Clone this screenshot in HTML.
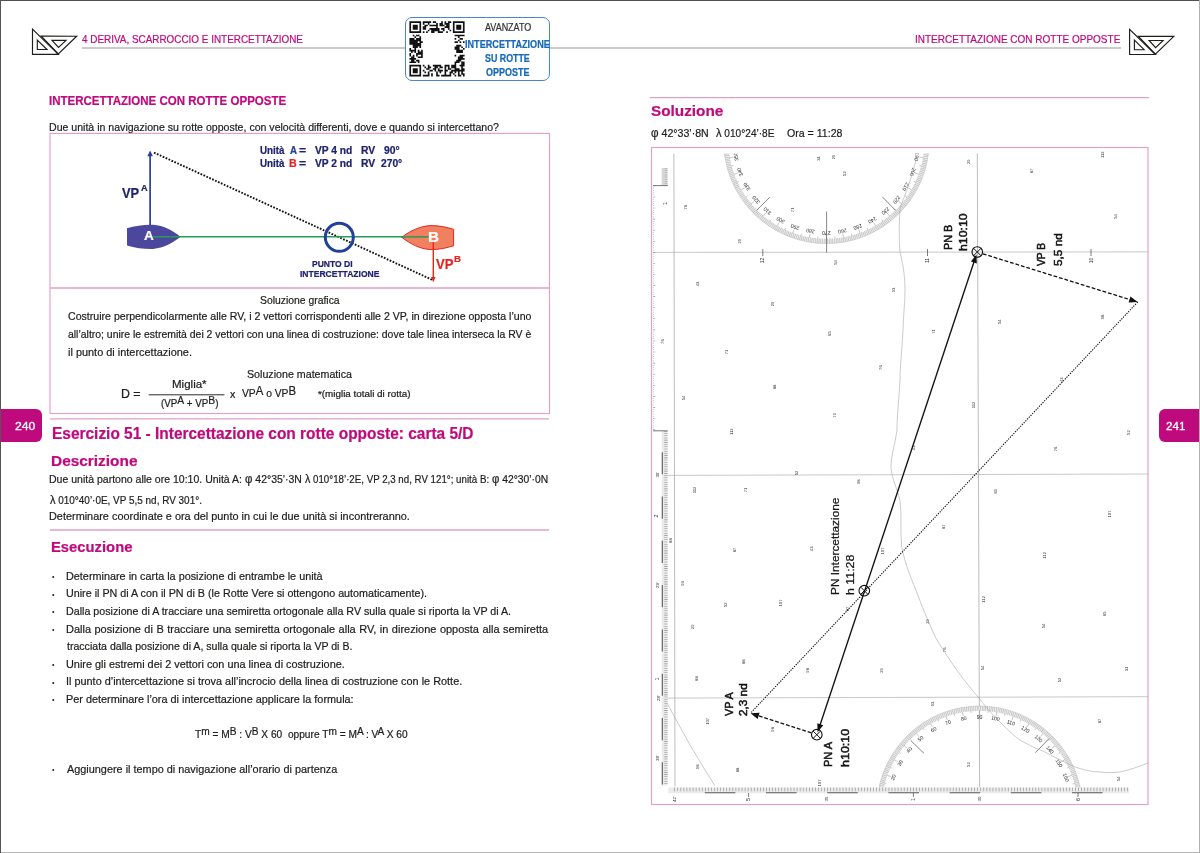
<!DOCTYPE html><html lang="it"><head><meta charset="utf-8"><title>Intercettazione con rotte opposte</title>
<style>
html,body{margin:0;padding:0;background:#fff}
body{width:1200px;height:853px;position:relative;overflow:hidden;font-family:"Liberation Sans", sans-serif;color:#1d1d1b}
.pg{position:absolute;left:0;top:0;width:1200px;height:853px;overflow:hidden;background:#fff;will-change:transform}
.t{position:absolute;margin:0;padding:0;white-space:nowrap;line-height:1;transform-origin:0 0;font-weight:400}
.t{-webkit-text-stroke:0.22px currentColor}
.ns{-webkit-text-stroke:0.3px #fff}
.bu{-webkit-text-stroke:0}
.r{position:absolute;margin:0;padding:0;white-space:nowrap;line-height:1;transform-origin:0 0}
.ln{position:absolute;height:0;border-top:1px solid #e2a0c4}
.box{position:absolute;border:1px solid #e2a0c4;box-sizing:border-box}
.tab{position:absolute;background:#bf0a7e;top:408.6px;height:33px;width:41.5px}
svg{position:absolute;left:0;top:0}
</style></head><body><div class="pg">
<div style="position:absolute;left:0;top:0;width:1200px;height:1px;background:#505050"></div>
<div style="position:absolute;left:0;top:851.6px;width:1200px;height:1.4px;background:#b4b4b4"></div>
<div style="position:absolute;left:1199px;top:0;width:1px;height:853px;background:#b0b0b0"></div>
<div style="position:absolute;left:82px;top:47px;width:1039px;height:2px;background:#cbcbcb"></div>
<div style="position:absolute;left:404.7px;top:17.4px;width:145.3px;height:63.2px;box-sizing:border-box;border:1.2px solid #4a86cf;border-radius:7px;background:#fff"></div>
<svg width="1200" height="853" viewBox="0 0 1200 853">
<g fill="none" stroke="#e2a0c4" stroke-width="1.15">
<rect x="50" y="133.4" width="499.5" height="280.1"/>
<rect x="651.5" y="147.5" width="496.5" height="657"/>
<path d="M50.5,288H549 M50,418.8H549 M50,530H549 M650,97.6H1149" stroke-width="1.3"/>
</g></svg>
<div class="tab" style="left:0;border-radius:0 6px 6px 0"></div>
<div class="tab" style="left:1159px;width:41px;border-radius:6px 0 0 6px"></div>
<div style="position:absolute;left:0;top:0;width:1.2px;height:853px;background:#555"></div>
<div style="position:absolute;left:1199px;top:0;width:1px;height:853px;background:#b0b0b0"></div>
<svg width="1200" height="853" viewBox="0 0 1200 853">
<g fill="none" stroke="#1d1d1b" stroke-width="1.15" stroke-linejoin="miter"><path d="M32.5,29.2 L32.5,54.3 L58.3,54.3 Z"/><path d="M37.3,40.0 L37.3,49.5 L47.0,49.5 Z"/><path d="M41.3,36.1 L76.7,36.2 L58.3,54.0 Z"/><path d="M52.0,40.3 L66.0,40.3 L58.5,47.5 Z"/></g>
<g fill="none" stroke="#1d1d1b" stroke-width="1.15" stroke-linejoin="miter"><path d="M1129.6,29.4 L1129.6,54.5 L1155.4,54.5 Z"/><path d="M1134.4,40.2 L1134.4,49.7 L1144.1,49.7 Z"/><path d="M1138.4,36.3 L1173.8,36.4 L1155.4,54.2 Z"/><path d="M1149.1,40.5 L1163.1,40.5 L1155.6,47.7 Z"/></g>
<path d="M409.40,21.30h11.71v1.67h-11.71zM422.78,21.30h8.36v1.67h-8.36zM432.82,21.30h3.35v1.67h-3.35zM441.18,21.30h1.67v1.67h-1.67zM444.53,21.30h1.67v1.67h-1.67zM447.87,21.30h3.35v1.67h-3.35zM452.89,21.30h11.71v1.67h-11.71zM409.40,22.97h1.67v1.67h-1.67zM419.44,22.97h1.67v1.67h-1.67zM422.78,22.97h1.67v1.67h-1.67zM427.80,22.97h1.67v1.67h-1.67zM436.16,22.97h1.67v1.67h-1.67zM439.51,22.97h3.35v1.67h-3.35zM444.53,22.97h5.02v1.67h-5.02zM452.89,22.97h1.67v1.67h-1.67zM462.93,22.97h1.67v1.67h-1.67zM409.40,24.65h1.67v1.67h-1.67zM412.75,24.65h5.02v1.67h-5.02zM419.44,24.65h1.67v1.67h-1.67zM424.45,24.65h3.35v1.67h-3.35zM429.47,24.65h8.36v1.67h-8.36zM439.51,24.65h5.02v1.67h-5.02zM446.20,24.65h3.35v1.67h-3.35zM452.89,24.65h1.67v1.67h-1.67zM456.24,24.65h5.02v1.67h-5.02zM462.93,24.65h1.67v1.67h-1.67zM409.40,26.32h1.67v1.67h-1.67zM412.75,26.32h5.02v1.67h-5.02zM419.44,26.32h1.67v1.67h-1.67zM422.78,26.32h3.35v1.67h-3.35zM436.16,26.32h1.67v1.67h-1.67zM444.53,26.32h5.02v1.67h-5.02zM452.89,26.32h1.67v1.67h-1.67zM456.24,26.32h5.02v1.67h-5.02zM462.93,26.32h1.67v1.67h-1.67zM409.40,27.99h1.67v1.67h-1.67zM412.75,27.99h5.02v1.67h-5.02zM419.44,27.99h1.67v1.67h-1.67zM422.78,27.99h3.35v1.67h-3.35zM429.47,27.99h10.04v1.67h-10.04zM441.18,27.99h3.35v1.67h-3.35zM447.87,27.99h1.67v1.67h-1.67zM452.89,27.99h1.67v1.67h-1.67zM456.24,27.99h5.02v1.67h-5.02zM462.93,27.99h1.67v1.67h-1.67zM409.40,29.66h1.67v1.67h-1.67zM419.44,29.66h1.67v1.67h-1.67zM427.80,29.66h1.67v1.67h-1.67zM431.15,29.66h8.36v1.67h-8.36zM442.85,29.66h1.67v1.67h-1.67zM449.55,29.66h1.67v1.67h-1.67zM452.89,29.66h1.67v1.67h-1.67zM462.93,29.66h1.67v1.67h-1.67zM409.40,31.34h11.71v1.67h-11.71zM422.78,31.34h1.67v1.67h-1.67zM426.13,31.34h1.67v1.67h-1.67zM431.15,31.34h3.35v1.67h-3.35zM437.84,31.34h5.02v1.67h-5.02zM446.20,31.34h1.67v1.67h-1.67zM452.89,31.34h11.71v1.67h-11.71zM412.75,34.68h1.67v1.67h-1.67zM416.09,34.68h3.35v1.67h-3.35zM454.56,34.68h10.04v1.67h-10.04zM414.42,36.35h1.67v1.67h-1.67zM419.44,36.35h1.67v1.67h-1.67zM457.91,36.35h1.67v1.67h-1.67zM409.40,38.03h5.02v1.67h-5.02zM416.09,38.03h5.02v1.67h-5.02zM454.56,38.03h1.67v1.67h-1.67zM459.58,38.03h3.35v1.67h-3.35zM409.40,39.70h11.71v1.67h-11.71zM457.91,39.70h1.67v1.67h-1.67zM409.40,41.37h8.36v1.67h-8.36zM419.44,41.37h3.35v1.67h-3.35zM454.56,41.37h3.35v1.67h-3.35zM459.58,41.37h1.67v1.67h-1.67zM462.93,41.37h1.67v1.67h-1.67zM409.40,43.05h11.71v1.67h-11.71zM412.75,44.72h8.36v1.67h-8.36zM456.24,44.72h5.02v1.67h-5.02zM412.75,46.39h5.02v1.67h-5.02zM419.44,46.39h1.67v1.67h-1.67zM454.56,46.39h5.02v1.67h-5.02zM461.25,46.39h1.67v1.67h-1.67zM409.40,48.06h1.67v1.67h-1.67zM414.42,48.06h1.67v1.67h-1.67zM454.56,48.06h5.02v1.67h-5.02zM462.93,48.06h1.67v1.67h-1.67zM409.40,49.74h6.69v1.67h-6.69zM417.76,49.74h1.67v1.67h-1.67zM421.11,49.74h1.67v1.67h-1.67zM456.24,49.74h6.69v1.67h-6.69zM411.07,51.41h1.67v1.67h-1.67zM414.42,51.41h1.67v1.67h-1.67zM417.76,51.41h5.02v1.67h-5.02zM456.24,51.41h6.69v1.67h-6.69zM409.40,53.08h1.67v1.67h-1.67zM416.09,53.08h6.69v1.67h-6.69zM409.40,54.75h1.67v1.67h-1.67zM412.75,54.75h1.67v1.67h-1.67zM416.09,54.75h1.67v1.67h-1.67zM421.11,54.75h1.67v1.67h-1.67zM454.56,54.75h1.67v1.67h-1.67zM459.58,54.75h5.02v1.67h-5.02zM411.07,56.43h3.35v1.67h-3.35zM417.76,56.43h5.02v1.67h-5.02zM457.91,56.43h5.02v1.67h-5.02zM409.40,58.10h6.69v1.67h-6.69zM457.91,58.10h6.69v1.67h-6.69zM411.07,59.77h3.35v1.67h-3.35zM416.09,59.77h3.35v1.67h-3.35zM456.24,59.77h5.02v1.67h-5.02zM409.40,61.45h6.69v1.67h-6.69zM417.76,61.45h1.67v1.67h-1.67zM454.56,61.45h5.02v1.67h-5.02zM461.25,61.45h3.35v1.67h-3.35zM454.56,63.12h1.67v1.67h-1.67zM461.25,63.12h3.35v1.67h-3.35zM409.40,64.79h11.71v1.67h-11.71zM422.78,64.79h1.67v1.67h-1.67zM427.80,64.79h1.67v1.67h-1.67zM432.82,64.79h8.36v1.67h-8.36zM444.53,64.79h5.02v1.67h-5.02zM451.22,64.79h5.02v1.67h-5.02zM459.58,64.79h5.02v1.67h-5.02zM409.40,66.46h1.67v1.67h-1.67zM419.44,66.46h1.67v1.67h-1.67zM424.45,66.46h1.67v1.67h-1.67zM427.80,66.46h3.35v1.67h-3.35zM434.49,66.46h3.35v1.67h-3.35zM439.51,66.46h3.35v1.67h-3.35zM444.53,66.46h1.67v1.67h-1.67zM447.87,66.46h1.67v1.67h-1.67zM451.22,66.46h5.02v1.67h-5.02zM461.25,66.46h1.67v1.67h-1.67zM409.40,68.14h1.67v1.67h-1.67zM412.75,68.14h5.02v1.67h-5.02zM419.44,68.14h1.67v1.67h-1.67zM426.13,68.14h3.35v1.67h-3.35zM432.82,68.14h3.35v1.67h-3.35zM437.84,68.14h1.67v1.67h-1.67zM444.53,68.14h1.67v1.67h-1.67zM447.87,68.14h3.35v1.67h-3.35zM454.56,68.14h5.02v1.67h-5.02zM461.25,68.14h3.35v1.67h-3.35zM409.40,69.81h1.67v1.67h-1.67zM412.75,69.81h5.02v1.67h-5.02zM419.44,69.81h1.67v1.67h-1.67zM422.78,69.81h1.67v1.67h-1.67zM429.47,69.81h3.35v1.67h-3.35zM434.49,69.81h1.67v1.67h-1.67zM437.84,69.81h5.02v1.67h-5.02zM444.53,69.81h3.35v1.67h-3.35zM451.22,69.81h13.38v1.67h-13.38zM409.40,71.48h1.67v1.67h-1.67zM412.75,71.48h5.02v1.67h-5.02zM419.44,71.48h1.67v1.67h-1.67zM424.45,71.48h1.67v1.67h-1.67zM427.80,71.48h1.67v1.67h-1.67zM436.16,71.48h1.67v1.67h-1.67zM439.51,71.48h1.67v1.67h-1.67zM444.53,71.48h1.67v1.67h-1.67zM449.55,71.48h3.35v1.67h-3.35zM454.56,71.48h1.67v1.67h-1.67zM457.91,71.48h1.67v1.67h-1.67zM461.25,71.48h1.67v1.67h-1.67zM409.40,73.15h1.67v1.67h-1.67zM419.44,73.15h1.67v1.67h-1.67zM427.80,73.15h1.67v1.67h-1.67zM431.15,73.15h1.67v1.67h-1.67zM436.16,73.15h1.67v1.67h-1.67zM444.53,73.15h1.67v1.67h-1.67zM449.55,73.15h1.67v1.67h-1.67zM452.89,73.15h1.67v1.67h-1.67zM457.91,73.15h1.67v1.67h-1.67zM461.25,73.15h3.35v1.67h-3.35zM409.40,74.83h11.71v1.67h-11.71zM422.78,74.83h6.69v1.67h-6.69zM431.15,74.83h1.67v1.67h-1.67zM436.16,74.83h3.35v1.67h-3.35zM441.18,74.83h10.04v1.67h-10.04zM454.56,74.83h1.67v1.67h-1.67zM457.91,74.83h3.35v1.67h-3.35zM462.93,74.83h1.67v1.67h-1.67z" fill="#111"/>
<line x1="148.7" y1="394.8" x2="224.5" y2="394.8" stroke="#2a2a2a" stroke-width="1"/>
<line x1="154" y1="152.6" x2="432.6" y2="280" stroke="#111" stroke-width="1.9" stroke-dasharray="1.7 1.5"/><line x1="153" y1="236.8" x2="430" y2="236.8" stroke="#2a9a57" stroke-width="1.5"/><path d="M127,228.2 C135,225.6 146,224.4 153,224.8 C164,225.5 173,231 180.4,236.8 C173,242.6 164,248.2 153,248.9 C146,249.2 135,248 127,245.4 Z" fill="#4b479c"/><line x1="153" y1="236.8" x2="180" y2="236.8" stroke="#2a9a57" stroke-width="1.5"/><line x1="150.1" y1="225" x2="150.1" y2="155" stroke="#2a3f9d" stroke-width="1.7"/><path d="M150.1,150.4 L152.9,156.2 L147.3,156.2 Z" fill="#2a3f9d"/><circle cx="339.3" cy="237.3" r="14" fill="none" stroke="#21409a" stroke-width="3"/><path d="M401.8,237.3 C410,231 420,226 431,225.6 C439,225.5 447,227.3 453.6,229.3 L453.6,245.8 C447,247.8 439,249.7 431,249.6 C420,249.2 410,243.6 401.8,237.3 Z" fill="#f0805f" stroke="#e5261f" stroke-width="1"/><line x1="401" y1="236.9" x2="429" y2="236.9" stroke="#2a9a57" stroke-width="1.5"/><line x1="433.3" y1="242" x2="433.3" y2="278" stroke="#e5261f" stroke-width="1.4"/><path d="M433.3,282.3 L431,277 L435.6,277 Z" fill="#e5261f"/>
<defs><clipPath id="cpT"><rect x="652" y="153.4" width="496" height="120"/></clipPath><clipPath id="cpB"><rect x="652" y="690" width="496" height="97.3"/></clipPath><clipPath id="cpC"><rect x="651.5" y="148" width="496.5" height="656"/></clipPath></defs><g stroke="#a2a2a2" stroke-width="0.6" fill="none"><line x1="673.9" y1="153.8" x2="675.0" y2="786.5" stroke="#8e8e8e"/><line x1="977.3" y1="153.4" x2="979.6" y2="787" stroke="#8e8e8e"/><line x1="653" y1="252.4" x2="1148" y2="251.9"/><line x1="662" y1="475.4" x2="1148" y2="474.0"/><line x1="662" y1="698.1" x2="1148" y2="696.7"/></g><rect x="661.6" y="168" width="5.9" height="17.5" fill="#d8d8d8"/><rect x="661.8" y="431" width="5.8" height="354.5" fill="#ebebeb"/><line x1="666.1" y1="168" x2="666.1" y2="185.5" stroke="#9a9a9a" stroke-width="2.8" stroke-dasharray="0.5 1.715"/><line x1="665.9" y1="431" x2="665.9" y2="785.5" stroke="#8c8c8c" stroke-width="3.4" stroke-dasharray="0.55 1.665"/><line x1="662.3" y1="452.2" x2="662.3" y2="785.5" stroke="#5a5a5a" stroke-width="1.1" stroke-dasharray="22.15 22.15"/><path d="M653,185.6H667.8 M653,430.8H667.6" stroke="#555" stroke-width="0.8" fill="none"/><line x1="653.4" y1="185.6" x2="653.4" y2="430.8" stroke="#888" stroke-width="0.8" stroke-dasharray="0.6 1.615"/><line x1="654.4" y1="185.6" x2="654.4" y2="430.8" stroke="#888" stroke-width="1.6" stroke-dasharray="0.6 10.475"/><rect x="668.3" y="787.5" width="460.7" height="5.7" fill="#ebebeb"/><line x1="674.4" y1="789.4" x2="1129" y2="789.4" stroke="#8c8c8c" stroke-width="3.6" stroke-dasharray="0.6 2.46"/><line x1="704.8" y1="792.8" x2="1129" y2="792.8" stroke="#5a5a5a" stroke-width="1.1" stroke-dasharray="30.6 30.6"/><g clip-path="url(#cpT)"><circle cx="826.4" cy="140.7" r="100.5" fill="none" stroke="#e9e9e9" stroke-width="4.8"/><circle cx="826.4" cy="140.7" r="100.5" fill="none" stroke="#b4b4b4" stroke-width="4.8" stroke-dasharray="0.5 1.2541"/><circle cx="826.4" cy="140.7" r="102.9" fill="none" stroke="#bdbdbd" stroke-width="0.5"/><path d="M922.3,149.1L924.3,149.3M919.3,157.1L923.2,157.8M919.4,165.6L921.4,166.1M915.0,173.0L918.8,174.3M913.7,181.4L915.5,182.2M908.1,187.8L911.5,189.8M905.3,195.9L906.9,197.1M898.6,201.3L901.7,203.9M894.5,208.8L895.9,210.2M887.0,212.9L889.6,216.0M881.6,219.6L882.8,221.2M873.5,222.4L875.5,225.8M867.1,228.0L867.9,229.8M858.7,229.3L860.0,233.1M851.3,233.7L851.8,235.7M842.8,233.6L843.5,237.5M834.8,236.6L835.0,238.6M826.4,235.0L826.4,239.0M818.0,236.6L817.8,238.6M810.0,233.6L809.3,237.5M801.5,233.7L801.0,235.7M794.1,229.3L792.8,233.1M785.7,228.0L784.9,229.8M779.2,222.4L777.2,225.8M771.2,219.6L770.0,221.2M765.8,212.9L763.2,216.0M758.3,208.8L756.9,210.2M754.2,201.3L751.1,203.9M747.5,195.9L745.9,197.1M744.7,187.8L741.3,189.8M739.1,181.4L737.3,182.2M737.8,173.0L734.0,174.3M733.4,165.6L731.4,166.1M733.5,157.1L729.6,157.8M730.5,149.1L728.5,149.3" stroke="#999" stroke-width="0.55" fill="none"/><text x="915.0" y="156.3" transform="rotate(100 915.0 156.3)" font-size="5.2" text-anchor="middle" fill="#2c2c2c" font-family='"Liberation Sans", sans-serif'>190</text><text x="911.0" y="171.5" transform="rotate(110 911.0 171.5)" font-size="5.2" text-anchor="middle" fill="#2c2c2c" font-family='"Liberation Sans", sans-serif'>200</text><text x="904.3" y="185.7" transform="rotate(120 904.3 185.7)" font-size="5.2" text-anchor="middle" fill="#2c2c2c" font-family='"Liberation Sans", sans-serif'>210</text><text x="895.3" y="198.6" transform="rotate(130 895.3 198.6)" font-size="5.2" text-anchor="middle" fill="#2c2c2c" font-family='"Liberation Sans", sans-serif'>220</text><text x="884.3" y="209.6" transform="rotate(140 884.3 209.6)" font-size="5.2" text-anchor="middle" fill="#2c2c2c" font-family='"Liberation Sans", sans-serif'>230</text><text x="871.4" y="218.6" transform="rotate(150 871.4 218.6)" font-size="5.2" text-anchor="middle" fill="#2c2c2c" font-family='"Liberation Sans", sans-serif'>240</text><text x="857.2" y="225.3" transform="rotate(160 857.2 225.3)" font-size="5.2" text-anchor="middle" fill="#2c2c2c" font-family='"Liberation Sans", sans-serif'>250</text><text x="842.0" y="229.3" transform="rotate(170 842.0 229.3)" font-size="5.2" text-anchor="middle" fill="#2c2c2c" font-family='"Liberation Sans", sans-serif'>260</text><text x="826.4" y="230.7" transform="rotate(180 826.4 230.7)" font-size="5.2" text-anchor="middle" fill="#2c2c2c" font-family='"Liberation Sans", sans-serif'>270</text><text x="810.8" y="229.3" transform="rotate(190 810.8 229.3)" font-size="5.2" text-anchor="middle" fill="#2c2c2c" font-family='"Liberation Sans", sans-serif'>280</text><text x="795.6" y="225.3" transform="rotate(200 795.6 225.3)" font-size="5.2" text-anchor="middle" fill="#2c2c2c" font-family='"Liberation Sans", sans-serif'>290</text><text x="781.4" y="218.6" transform="rotate(210 781.4 218.6)" font-size="5.2" text-anchor="middle" fill="#2c2c2c" font-family='"Liberation Sans", sans-serif'>300</text><text x="768.5" y="209.6" transform="rotate(220 768.5 209.6)" font-size="5.2" text-anchor="middle" fill="#2c2c2c" font-family='"Liberation Sans", sans-serif'>310</text><text x="757.5" y="198.6" transform="rotate(230 757.5 198.6)" font-size="5.2" text-anchor="middle" fill="#2c2c2c" font-family='"Liberation Sans", sans-serif'>320</text><text x="748.5" y="185.7" transform="rotate(240 748.5 185.7)" font-size="5.2" text-anchor="middle" fill="#2c2c2c" font-family='"Liberation Sans", sans-serif'>330</text><text x="741.8" y="171.5" transform="rotate(250 741.8 171.5)" font-size="5.2" text-anchor="middle" fill="#2c2c2c" font-family='"Liberation Sans", sans-serif'>340</text><text x="737.8" y="156.3" transform="rotate(260 737.8 156.3)" font-size="5.2" text-anchor="middle" fill="#2c2c2c" font-family='"Liberation Sans", sans-serif'>350</text></g><g clip-path="url(#cpB)"><circle cx="979.6" cy="808.9" r="100.5" fill="none" stroke="#e9e9e9" stroke-width="4.8"/><circle cx="979.6" cy="808.9" r="100.5" fill="none" stroke="#b4b4b4" stroke-width="4.8" stroke-dasharray="0.5 1.2541"/><circle cx="979.6" cy="808.9" r="102.9" fill="none" stroke="#bdbdbd" stroke-width="0.5"/><path d="M886.7,792.5L882.8,791.8M886.6,784.0L884.6,783.5M891.0,776.6L887.2,775.3M892.3,768.2L890.5,767.4M897.9,761.8L894.5,759.8M900.7,753.7L899.1,752.5M907.4,748.3L904.3,745.7M911.5,740.8L910.1,739.4M919.0,736.7L916.4,733.6M924.4,730.0L923.2,728.4M932.5,727.2L930.5,723.8M938.9,721.6L938.1,719.8M947.3,720.3L946.0,716.5M954.7,715.9L954.2,713.9M963.2,716.0L962.5,712.1M971.2,713.0L971.0,711.0M979.6,714.6L979.6,710.6M988.0,713.0L988.2,711.0M996.0,716.0L996.7,712.1M1004.5,715.9L1005.0,713.9M1011.9,720.3L1013.2,716.5M1020.3,721.6L1021.1,719.8M1026.8,727.2L1028.8,723.8M1034.8,730.0L1036.0,728.4M1040.2,736.7L1042.8,733.6M1047.7,740.8L1049.1,739.4M1051.8,748.3L1054.9,745.7M1058.5,753.7L1060.1,752.5M1061.3,761.8L1064.7,759.8M1066.9,768.2L1068.7,767.4M1068.2,776.6L1072.0,775.3M1072.6,784.0L1074.6,783.5M1072.5,792.5L1076.4,791.8" stroke="#999" stroke-width="0.55" fill="none"/><text x="891.0" y="793.3" transform="rotate(-80 891.0 793.3)" font-size="5.2" text-anchor="middle" fill="#2c2c2c" font-family='"Liberation Sans", sans-serif'>10</text><text x="895.0" y="778.1" transform="rotate(-70 895.0 778.1)" font-size="5.2" text-anchor="middle" fill="#2c2c2c" font-family='"Liberation Sans", sans-serif'>20</text><text x="901.7" y="763.9" transform="rotate(-60 901.7 763.9)" font-size="5.2" text-anchor="middle" fill="#2c2c2c" font-family='"Liberation Sans", sans-serif'>30</text><text x="910.7" y="751.0" transform="rotate(-50 910.7 751.0)" font-size="5.2" text-anchor="middle" fill="#2c2c2c" font-family='"Liberation Sans", sans-serif'>40</text><text x="921.7" y="740.0" transform="rotate(-40 921.7 740.0)" font-size="5.2" text-anchor="middle" fill="#2c2c2c" font-family='"Liberation Sans", sans-serif'>50</text><text x="934.6" y="731.0" transform="rotate(-30 934.6 731.0)" font-size="5.2" text-anchor="middle" fill="#2c2c2c" font-family='"Liberation Sans", sans-serif'>60</text><text x="948.8" y="724.3" transform="rotate(-20 948.8 724.3)" font-size="5.2" text-anchor="middle" fill="#2c2c2c" font-family='"Liberation Sans", sans-serif'>70</text><text x="964.0" y="720.3" transform="rotate(-10 964.0 720.3)" font-size="5.2" text-anchor="middle" fill="#2c2c2c" font-family='"Liberation Sans", sans-serif'>80</text><text x="979.6" y="718.9" transform="rotate(0 979.6 718.9)" font-size="5.2" text-anchor="middle" fill="#2c2c2c" font-family='"Liberation Sans", sans-serif'>90</text><text x="995.2" y="720.3" transform="rotate(10 995.2 720.3)" font-size="5.2" text-anchor="middle" fill="#2c2c2c" font-family='"Liberation Sans", sans-serif'>100</text><text x="1010.4" y="724.3" transform="rotate(20 1010.4 724.3)" font-size="5.2" text-anchor="middle" fill="#2c2c2c" font-family='"Liberation Sans", sans-serif'>110</text><text x="1024.6" y="731.0" transform="rotate(30 1024.6 731.0)" font-size="5.2" text-anchor="middle" fill="#2c2c2c" font-family='"Liberation Sans", sans-serif'>120</text><text x="1037.5" y="740.0" transform="rotate(40 1037.5 740.0)" font-size="5.2" text-anchor="middle" fill="#2c2c2c" font-family='"Liberation Sans", sans-serif'>130</text><text x="1048.5" y="751.0" transform="rotate(50 1048.5 751.0)" font-size="5.2" text-anchor="middle" fill="#2c2c2c" font-family='"Liberation Sans", sans-serif'>140</text><text x="1057.5" y="763.9" transform="rotate(60 1057.5 763.9)" font-size="5.2" text-anchor="middle" fill="#2c2c2c" font-family='"Liberation Sans", sans-serif'>150</text><text x="1064.2" y="778.1" transform="rotate(70 1064.2 778.1)" font-size="5.2" text-anchor="middle" fill="#2c2c2c" font-family='"Liberation Sans", sans-serif'>160</text><text x="1068.2" y="793.3" transform="rotate(80 1068.2 793.3)" font-size="5.2" text-anchor="middle" fill="#2c2c2c" font-family='"Liberation Sans", sans-serif'>170</text></g><path d="M826.6,211.5V252.7 M756.6,210.4L769.6,197.4 M882.5,197L895.5,210.4 M911,740.8L924,753.3 M1049,738.6L1035.4,752.7" stroke="#555" stroke-width="0.7" fill="none"/><path d="M762.8,249V256 M927.5,249V256 M1091,249V256" stroke="#444" stroke-width="0.7"/><path d="M917,155 C913,175 905,195 900,208 C899,225 899,240 900,252 C904,268 905,280 905,290 C905,305 903,318 903,330 C902,350 900,365 900,380 C899,400 897,415 897,430 C895,445 891,455 891,467.6 C892,480 898,490 900,501 C902,515 900,530 901.6,546 C905,565 912,580 918.6,597 C924,612 930,625 935.6,637.7 C944,652 953,665 963,678.5 C969,686 973,691 978,697 C985,706 992,714 1000,722 C1008,730 1014,736 1020,740 C1030,746 1038,749 1045,752 C1056,758 1066,763 1075,767 C1084,770 1092,772 1100,772 C1108,773 1114,772.5 1120,772 C1130,770 1140,766 1148,763" stroke="#a0a0a0" stroke-width="0.55" fill="none"/><path d="M667,703 C675,718 683,732 690,745 C696,755 700,762 705,770 C709,776 712,781 715,786" stroke="#a0a0a0" stroke-width="0.55" fill="none"/><text x="685.7" y="207.2" transform="rotate(-90 685.7 207.2)" font-size="4.2" text-anchor="middle" fill="#333" font-family='"Liberation Sans", sans-serif' dy="1.3">76</text><text x="739.7" y="241.2" transform="rotate(-90 739.7 241.2)" font-size="4.2" text-anchor="middle" fill="#333" font-family='"Liberation Sans", sans-serif' dy="1.3">29</text><text x="792.8" y="209.8" transform="rotate(-90 792.8 209.8)" font-size="4.2" text-anchor="middle" fill="#333" font-family='"Liberation Sans", sans-serif' dy="1.3">71</text><text x="844.3" y="173.6" transform="rotate(-90 844.3 173.6)" font-size="4.2" text-anchor="middle" fill="#333" font-family='"Liberation Sans", sans-serif' dy="1.3">52</text><text x="819.0" y="158.4" transform="rotate(-90 819.0 158.4)" font-size="4.2" text-anchor="middle" fill="#333" font-family='"Liberation Sans", sans-serif' dy="1.3">31</text><text x="833.5" y="157.0" transform="rotate(-90 833.5 157.0)" font-size="4.2" text-anchor="middle" fill="#333" font-family='"Liberation Sans", sans-serif' dy="1.3">29</text><text x="835.7" y="262.4" transform="rotate(-90 835.7 262.4)" font-size="4.2" text-anchor="middle" fill="#333" font-family='"Liberation Sans", sans-serif' dy="1.3">54</text><text x="697.4" y="284.0" transform="rotate(-90 697.4 284.0)" font-size="4.2" text-anchor="middle" fill="#333" font-family='"Liberation Sans", sans-serif' dy="1.3">43</text><text x="772.8" y="304.0" transform="rotate(-90 772.8 304.0)" font-size="4.2" text-anchor="middle" fill="#333" font-family='"Liberation Sans", sans-serif' dy="1.3">29</text><text x="893.7" y="290.0" transform="rotate(-90 893.7 290.0)" font-size="4.2" text-anchor="middle" fill="#333" font-family='"Liberation Sans", sans-serif' dy="1.3">93</text><text x="968.7" y="161.7" transform="rotate(-90 968.7 161.7)" font-size="4.2" text-anchor="middle" fill="#333" font-family='"Liberation Sans", sans-serif' dy="1.3">29</text><text x="1032.0" y="171.0" transform="rotate(-90 1032.0 171.0)" font-size="4.2" text-anchor="middle" fill="#333" font-family='"Liberation Sans", sans-serif' dy="1.3">87</text><text x="1102.6" y="154.7" transform="rotate(-90 1102.6 154.7)" font-size="4.2" text-anchor="middle" fill="#333" font-family='"Liberation Sans", sans-serif' dy="1.3">112</text><text x="1116.0" y="216.5" transform="rotate(-90 1116.0 216.5)" font-size="4.2" text-anchor="middle" fill="#333" font-family='"Liberation Sans", sans-serif' dy="1.3">54</text><text x="829.6" y="333.6" transform="rotate(-90 829.6 333.6)" font-size="4.2" text-anchor="middle" fill="#333" font-family='"Liberation Sans", sans-serif' dy="1.3">65</text><text x="726.3" y="352.0" transform="rotate(-90 726.3 352.0)" font-size="4.2" text-anchor="middle" fill="#333" font-family='"Liberation Sans", sans-serif' dy="1.3">71</text><text x="662.8" y="341.6" transform="rotate(-90 662.8 341.6)" font-size="4.2" text-anchor="middle" fill="#333" font-family='"Liberation Sans", sans-serif' dy="1.3">76</text><text x="880.5" y="367.6" transform="rotate(-90 880.5 367.6)" font-size="4.2" text-anchor="middle" fill="#333" font-family='"Liberation Sans", sans-serif' dy="1.3">76</text><text x="775.0" y="387.0" transform="rotate(-90 775.0 387.0)" font-size="4.2" text-anchor="middle" fill="#333" font-family='"Liberation Sans", sans-serif' dy="1.3">88</text><text x="683.4" y="398.0" transform="rotate(-90 683.4 398.0)" font-size="4.2" text-anchor="middle" fill="#333" font-family='"Liberation Sans", sans-serif' dy="1.3">54</text><text x="834.8" y="415.3" transform="rotate(-90 834.8 415.3)" font-size="4.2" text-anchor="middle" fill="#333" font-family='"Liberation Sans", sans-serif' dy="1.3">71</text><text x="731.2" y="431.7" transform="rotate(-90 731.2 431.7)" font-size="4.2" text-anchor="middle" fill="#333" font-family='"Liberation Sans", sans-serif' dy="1.3">112</text><text x="933.6" y="331.4" transform="rotate(-90 933.6 331.4)" font-size="4.2" text-anchor="middle" fill="#333" font-family='"Liberation Sans", sans-serif' dy="1.3">71</text><text x="999.7" y="321.7" transform="rotate(-90 999.7 321.7)" font-size="4.2" text-anchor="middle" fill="#333" font-family='"Liberation Sans", sans-serif' dy="1.3">54</text><text x="1102.6" y="317.0" transform="rotate(-90 1102.6 317.0)" font-size="4.2" text-anchor="middle" fill="#333" font-family='"Liberation Sans", sans-serif' dy="1.3">98</text><text x="1061.8" y="379.7" transform="rotate(-90 1061.8 379.7)" font-size="4.2" text-anchor="middle" fill="#333" font-family='"Liberation Sans", sans-serif' dy="1.3">43</text><text x="974.0" y="405.0" transform="rotate(-90 974.0 405.0)" font-size="4.2" text-anchor="middle" fill="#333" font-family='"Liberation Sans", sans-serif' dy="1.3">112</text><text x="1129.0" y="432.6" transform="rotate(-90 1129.0 432.6)" font-size="4.2" text-anchor="middle" fill="#333" font-family='"Liberation Sans", sans-serif' dy="1.3">52</text><text x="1055.8" y="449.0" transform="rotate(-90 1055.8 449.0)" font-size="4.2" text-anchor="middle" fill="#333" font-family='"Liberation Sans", sans-serif' dy="1.3">76</text><text x="914.0" y="447.8" transform="rotate(-90 914.0 447.8)" font-size="4.2" text-anchor="middle" fill="#333" font-family='"Liberation Sans", sans-serif' dy="1.3">43</text><text x="796.7" y="473.0" transform="rotate(-90 796.7 473.0)" font-size="4.2" text-anchor="middle" fill="#333" font-family='"Liberation Sans", sans-serif' dy="1.3">52</text><text x="694.4" y="490.0" transform="rotate(-90 694.4 490.0)" font-size="4.2" text-anchor="middle" fill="#333" font-family='"Liberation Sans", sans-serif' dy="1.3">112</text><text x="745.8" y="490.0" transform="rotate(-90 745.8 490.0)" font-size="4.2" text-anchor="middle" fill="#333" font-family='"Liberation Sans", sans-serif' dy="1.3">71</text><text x="858.4" y="481.7" transform="rotate(-90 858.4 481.7)" font-size="4.2" text-anchor="middle" fill="#333" font-family='"Liberation Sans", sans-serif' dy="1.3">98</text><text x="670.6" y="540.6" transform="rotate(-90 670.6 540.6)" font-size="4.2" text-anchor="middle" fill="#333" font-family='"Liberation Sans", sans-serif' dy="1.3">88</text><text x="735.0" y="550.0" transform="rotate(-90 735.0 550.0)" font-size="4.2" text-anchor="middle" fill="#333" font-family='"Liberation Sans", sans-serif' dy="1.3">87</text><text x="811.4" y="548.8" transform="rotate(-90 811.4 548.8)" font-size="4.2" text-anchor="middle" fill="#333" font-family='"Liberation Sans", sans-serif' dy="1.3">43</text><text x="882.7" y="551.0" transform="rotate(-90 882.7 551.0)" font-size="4.2" text-anchor="middle" fill="#333" font-family='"Liberation Sans", sans-serif' dy="1.3">107</text><text x="683.0" y="583.5" transform="rotate(-90 683.0 583.5)" font-size="4.2" text-anchor="middle" fill="#333" font-family='"Liberation Sans", sans-serif' dy="1.3">93</text><text x="725.6" y="604.7" transform="rotate(-90 725.6 604.7)" font-size="4.2" text-anchor="middle" fill="#333" font-family='"Liberation Sans", sans-serif' dy="1.3">52</text><text x="781.0" y="603.0" transform="rotate(-90 781.0 603.0)" font-size="4.2" text-anchor="middle" fill="#333" font-family='"Liberation Sans", sans-serif' dy="1.3">107</text><text x="693.0" y="626.8" transform="rotate(-90 693.0 626.8)" font-size="4.2" text-anchor="middle" fill="#333" font-family='"Liberation Sans", sans-serif' dy="1.3">29</text><text x="847.6" y="609.0" transform="rotate(-90 847.6 609.0)" font-size="4.2" text-anchor="middle" fill="#333" font-family='"Liberation Sans", sans-serif' dy="1.3">87</text><text x="995.3" y="491.4" transform="rotate(-90 995.3 491.4)" font-size="4.2" text-anchor="middle" fill="#333" font-family='"Liberation Sans", sans-serif' dy="1.3">65</text><text x="1109.5" y="514.0" transform="rotate(-90 1109.5 514.0)" font-size="4.2" text-anchor="middle" fill="#333" font-family='"Liberation Sans", sans-serif' dy="1.3">107</text><text x="943.7" y="526.7" transform="rotate(-90 943.7 526.7)" font-size="4.2" text-anchor="middle" fill="#333" font-family='"Liberation Sans", sans-serif' dy="1.3">87</text><text x="1045.0" y="555.3" transform="rotate(-90 1045.0 555.3)" font-size="4.2" text-anchor="middle" fill="#333" font-family='"Liberation Sans", sans-serif' dy="1.3">112</text><text x="983.8" y="599.3" transform="rotate(-90 983.8 599.3)" font-size="4.2" text-anchor="middle" fill="#333" font-family='"Liberation Sans", sans-serif' dy="1.3">112</text><text x="1105.0" y="613.8" transform="rotate(-90 1105.0 613.8)" font-size="4.2" text-anchor="middle" fill="#333" font-family='"Liberation Sans", sans-serif' dy="1.3">65</text><text x="1043.4" y="626.0" transform="rotate(-90 1043.4 626.0)" font-size="4.2" text-anchor="middle" fill="#333" font-family='"Liberation Sans", sans-serif' dy="1.3">54</text><text x="927.5" y="621.4" transform="rotate(-90 927.5 621.4)" font-size="4.2" text-anchor="middle" fill="#333" font-family='"Liberation Sans", sans-serif' dy="1.3">29</text><text x="744.0" y="661.7" transform="rotate(-90 744.0 661.7)" font-size="4.2" text-anchor="middle" fill="#333" font-family='"Liberation Sans", sans-serif' dy="1.3">88</text><text x="808.0" y="670.3" transform="rotate(-90 808.0 670.3)" font-size="4.2" text-anchor="middle" fill="#333" font-family='"Liberation Sans", sans-serif' dy="1.3">98</text><text x="696.4" y="678.6" transform="rotate(-90 696.4 678.6)" font-size="4.2" text-anchor="middle" fill="#333" font-family='"Liberation Sans", sans-serif' dy="1.3">88</text><text x="707.8" y="721.3" transform="rotate(-90 707.8 721.3)" font-size="4.2" text-anchor="middle" fill="#333" font-family='"Liberation Sans", sans-serif' dy="1.3">107</text><text x="772.4" y="729.3" transform="rotate(-90 772.4 729.3)" font-size="4.2" text-anchor="middle" fill="#333" font-family='"Liberation Sans", sans-serif' dy="1.3">98</text><text x="697.6" y="766.8" transform="rotate(-90 697.6 766.8)" font-size="4.2" text-anchor="middle" fill="#333" font-family='"Liberation Sans", sans-serif' dy="1.3">98</text><text x="737.7" y="770.0" transform="rotate(-90 737.7 770.0)" font-size="4.2" text-anchor="middle" fill="#333" font-family='"Liberation Sans", sans-serif' dy="1.3">88</text><text x="820.0" y="783.0" transform="rotate(-90 820.0 783.0)" font-size="4.2" text-anchor="middle" fill="#333" font-family='"Liberation Sans", sans-serif' dy="1.3">107</text><text x="882.0" y="670.5" transform="rotate(-90 882.0 670.5)" font-size="4.2" text-anchor="middle" fill="#333" font-family='"Liberation Sans", sans-serif' dy="1.3">29</text><text x="982.8" y="668.0" transform="rotate(-90 982.8 668.0)" font-size="4.2" text-anchor="middle" fill="#333" font-family='"Liberation Sans", sans-serif' dy="1.3">54</text><text x="1060.0" y="680.0" transform="rotate(-90 1060.0 680.0)" font-size="4.2" text-anchor="middle" fill="#333" font-family='"Liberation Sans", sans-serif' dy="1.3">52</text><text x="1126.8" y="669.0" transform="rotate(-90 1126.8 669.0)" font-size="4.2" text-anchor="middle" fill="#333" font-family='"Liberation Sans", sans-serif' dy="1.3">31</text><text x="932.5" y="704.0" transform="rotate(-90 932.5 704.0)" font-size="4.2" text-anchor="middle" fill="#333" font-family='"Liberation Sans", sans-serif' dy="1.3">93</text><text x="1099.8" y="721.0" transform="rotate(-90 1099.8 721.0)" font-size="4.2" text-anchor="middle" fill="#333" font-family='"Liberation Sans", sans-serif' dy="1.3">87</text><text x="969.0" y="764.6" transform="rotate(-90 969.0 764.6)" font-size="4.2" text-anchor="middle" fill="#333" font-family='"Liberation Sans", sans-serif' dy="1.3">52</text><text x="1119.0" y="778.7" transform="rotate(-90 1119.0 778.7)" font-size="4.2" text-anchor="middle" fill="#333" font-family='"Liberation Sans", sans-serif' dy="1.3">54</text><text x="944.4" y="649.8" transform="rotate(-90 944.4 649.8)" font-size="4.2" text-anchor="middle" fill="#333" font-family='"Liberation Sans", sans-serif' dy="1.3">76</text><text x="665.5" y="203.5" transform="rotate(-90 665.5 203.5)" font-size="5.5" text-anchor="middle" fill="#333" font-family='"Liberation Sans", sans-serif' dy="1.6">1</text><text x="762.8" y="260.5" transform="rotate(-90 762.8 260.5)" font-size="5" text-anchor="middle" fill="#333" font-family='"Liberation Sans", sans-serif' dy="1.6">12</text><text x="927.5" y="260.5" transform="rotate(-90 927.5 260.5)" font-size="5" text-anchor="middle" fill="#333" font-family='"Liberation Sans", sans-serif' dy="1.6">11</text><text x="1091" y="260.5" transform="rotate(-90 1091 260.5)" font-size="5" text-anchor="middle" fill="#333" font-family='"Liberation Sans", sans-serif' dy="1.6">10</text><text x="657.8" y="474.7" transform="rotate(-90 657.8 474.7)" font-size="4.4" text-anchor="middle" fill="#333" font-family='"Liberation Sans", sans-serif' dy="1.6">30'</text><text x="656.5" y="516" transform="rotate(-90 656.5 516)" font-size="5.5" text-anchor="middle" fill="#333" font-family='"Liberation Sans", sans-serif' dy="1.6">2</text><text x="657.8" y="585" transform="rotate(-90 657.8 585)" font-size="4.4" text-anchor="middle" fill="#333" font-family='"Liberation Sans", sans-serif' dy="1.6">29'</text><text x="657" y="679" transform="rotate(-90 657 679)" font-size="5.5" text-anchor="middle" fill="#333" font-family='"Liberation Sans", sans-serif' dy="1.6">1</text><text x="658" y="698" transform="rotate(-90 658 698)" font-size="4.4" text-anchor="middle" fill="#333" font-family='"Liberation Sans", sans-serif' dy="1.6">28'</text><text x="657.8" y="758" transform="rotate(-90 657.8 758)" font-size="4.4" text-anchor="middle" fill="#333" font-family='"Liberation Sans", sans-serif' dy="1.6">38'</text><text x="674" y="799" transform="rotate(-90 674 799)" font-size="4.4" text-anchor="middle" fill="#333" font-family='"Liberation Sans", sans-serif' dy="1.6">42'</text><text x="748.6" y="799.5" transform="rotate(-90 748.6 799.5)" font-size="5.5" text-anchor="middle" fill="#333" font-family='"Liberation Sans", sans-serif' dy="1.6">5</text><text x="826" y="799" transform="rotate(-90 826 799)" font-size="4.4" text-anchor="middle" fill="#333" font-family='"Liberation Sans", sans-serif' dy="1.6">35</text><text x="913.4" y="799.5" transform="rotate(-90 913.4 799.5)" font-size="5.5" text-anchor="middle" fill="#333" font-family='"Liberation Sans", sans-serif' dy="1.6">1</text><text x="979.5" y="799" transform="rotate(-90 979.5 799)" font-size="4.4" text-anchor="middle" fill="#333" font-family='"Liberation Sans", sans-serif' dy="1.6">30</text><text x="1078" y="799.5" transform="rotate(-90 1078 799.5)" font-size="5.5" text-anchor="middle" fill="#333" font-family='"Liberation Sans", sans-serif' dy="1.6">6</text><path d="M748.6,793V797 M913.4,793V797 M1078,793V797" stroke="#444" stroke-width="0.7"/><line x1="1137.7" y1="302.0" x2="750.5" y2="713.2" stroke="#111" stroke-width="1.1" stroke-dasharray="1.3 1.2"/><line x1="975.8" y1="256.5" x2="818.3" y2="730.2" stroke="#111" stroke-width="1.35"/><path d="M817.6,732.3L817.3,723.3L823.2,725.2Z" fill="#111"/><path d="M976.5,254.4L976.8,263.4L970.9,261.5Z" fill="#111"/><line x1="982.8" y1="253.8" x2="1133.7" y2="300.8" stroke="#111" stroke-width="1.3" stroke-dasharray="3.8 1.9"/><path d="M1137.7,302.0L1128.6,302.5L1130.5,296.4Z" fill="#111"/><line x1="811.3" y1="732.9000000000001" x2="754.5" y2="714.5" stroke="#111" stroke-width="1.3" stroke-dasharray="3.8 1.9"/><path d="M750.5,713.2L759.6,712.8L757.6,718.9Z" fill="#111"/><circle cx="816.8" cy="734.7" r="5.3" fill="none" stroke="#111" stroke-width="1.1"/><path d="M813.1999999999999,731.1L820.4,738.3000000000001M820.4,731.1L813.1999999999999,738.3000000000001" stroke="#111" stroke-width="1"/><circle cx="977.3" cy="252.0" r="5.3" fill="none" stroke="#111" stroke-width="1.1"/><path d="M973.6999999999999,248.4L980.9,255.6M980.9,248.4L973.6999999999999,255.6" stroke="#111" stroke-width="1"/><circle cx="864.3" cy="590.7" r="5.3" fill="none" stroke="#111" stroke-width="1.1"/><path d="M860.6999999999999,587.1L867.9,594.3000000000001M867.9,587.1L860.6999999999999,594.3000000000001" stroke="#111" stroke-width="1"/>
</svg>
<div class="t" id="t0" style="left:81.50px;top:34.00px;font-size:11.3px;color:#bf0a7e;transform:scaleX(0.8769)">4 DERIVA, SCARROCCIO E INTERCETTAZIONE</div>
<h1 class="t" id="t1" style="left:49.25px;top:95.00px;font-size:12.4px;color:#bf0a7e;font-weight:700;transform:scaleX(0.9295)">INTERCETTAZIONE CON ROTTE OPPOSTE</h1>
<p class="t" id="t2" style="left:49.15px;top:122.00px;font-size:11.8px;color:#1d1d1b;transform:scaleX(0.8960)">Due unità in navigazione su rotte opposte, con velocità differenti, dove e quando si intercettano?</p>
<p class="t" id="t3" style="left:259.53px;top:295.00px;font-size:11.8px;color:#1d1d1b;transform:scaleX(0.8799)">Soluzione grafica</p>
<p class="t" id="t4" style="left:68.22px;top:311.00px;font-size:11.8px;color:#1d1d1b;transform:scaleX(0.8972)">Costruire perpendicolarmente alle RV, i 2 vettori corrispondenti alle 2 VP, in direzione opposta l’uno</p>
<p class="t" id="t5" style="left:68.33px;top:329.00px;font-size:11.8px;color:#1d1d1b;transform:scaleX(0.8846)">all’altro; unire le estremità dei 2 vettori con una linea di costruzione: dove tale linea interseca la RV è</p>
<p class="t" id="t6" style="left:68.04px;top:347.00px;font-size:11.8px;color:#1d1d1b;transform:scaleX(0.9263)">il punto di intercettazione.</p>
<p class="t" id="t7" style="left:247.02px;top:369.00px;font-size:11.8px;color:#1d1d1b;transform:scaleX(0.9042)">Soluzione matematica</p>
<span class="t" id="t8" style="left:121.01px;top:389.00px;font-size:11.9px;color:#1d1d1b;transform:scaleX(1.0399)">D =</span>
<span class="t" id="t9" style="left:171.58px;top:379.00px;font-size:10.6px;color:#1d1d1b;transform:scaleX(1.0877)">Miglia*</span>
<span class="t" id="t10" style="left:161.11px;top:398.00px;font-size:10.0px;color:#1d1d1b;transform:scaleX(0.9750)">(VP<span style="position:relative;top:-3.3px;font-size:1.06em">A</span> + VP<span style="position:relative;top:-3.3px;font-size:1.06em">B</span>)</span>
<span class="t" id="t11" style="left:230.29px;top:389.00px;font-size:10.6px;color:#1d1d1b;transform:scaleX(1.0030)">x</span>
<span class="t" id="t12" style="left:242.00px;top:388.00px;font-size:10.8px;color:#1d1d1b;transform:scaleX(0.9535)">VP<span style="position:relative;top:-2.3px;font-size:1.1em">A</span> o VP<span style="position:relative;top:-2.3px;font-size:1.1em">B</span></span>
<span class="t" id="t13" style="left:317.85px;top:390.00px;font-size:9.3px;color:#1d1d1b;transform:scaleX(1.0583)">*(miglia totali di rotta)</span>
<h2 class="t" id="t14" style="left:51.60px;top:426.00px;font-size:15.8px;color:#bf0a7e;font-weight:700;transform:scaleX(0.9779)">Esercizio 51 - Intercettazione con rotte opposte: carta 5/D</h2>
<h3 class="t" id="t15" style="left:51.00px;top:454.00px;font-size:14.6px;color:#bf0a7e;font-weight:700;transform:scaleX(1.0557)">Descrizione</h3>
<p class="t" id="t16" style="left:49.16px;top:474.00px;font-size:11.8px;color:#1d1d1b;transform:scaleX(0.8916)">Due unità partono alle ore 10:10. Unità A:</p>
<span class="t" id="t17" style="left:244.58px;top:472.00px;font-size:11.8px;color:#1d1d1b;transform:scaleX(0.8853)"><span style="font-size:1.1em">φ</span> 42°35’·3N</span>
<span class="t" id="t18" style="left:305.45px;top:472.00px;font-size:11.8px;color:#1d1d1b;transform:scaleX(0.8241)"><span style="font-size:1.1em">λ</span> 010°18’·2E, VP 2,3 nd, RV 121°; unità B:</span>
<span class="t" id="t19" style="left:492.09px;top:472.00px;font-size:11.8px;color:#1d1d1b;transform:scaleX(0.8742)"><span style="font-size:1.1em">φ</span> 42°30’·0N</span>
<p class="t" id="t20" style="left:49.95px;top:493.00px;font-size:11.8px;color:#1d1d1b;transform:scaleX(0.8435)"><span style="font-size:1.1em">λ</span> 010°40’·0E, VP 5,5 nd, RV 301°.</p>
<p class="t" id="t21" style="left:49.13px;top:511.00px;font-size:11.8px;color:#1d1d1b;transform:scaleX(0.9232)">Determinare coordinate e ora del punto in cui le due unità si incontreranno.</p>
<h3 class="t" id="t22" style="left:51.04px;top:540.00px;font-size:14.6px;color:#bf0a7e;font-weight:700;transform:scaleX(1.0140)">Esecuzione</h3>
<span class="t bu" id="t23" style="left:52.05px;top:573.00px;font-size:7px;color:#1d1d1b;transform:scaleX(1.0191)">•</span>
<p class="t" id="t24" style="left:65.83px;top:571.00px;font-size:11.8px;color:#1d1d1b;transform:scaleX(0.9187)">Determinare in carta la posizione di entrambe le unità</p>
<span class="t bu" id="t25" style="left:52.05px;top:591.00px;font-size:7px;color:#1d1d1b;transform:scaleX(1.0191)">•</span>
<p class="t" id="t26" style="left:65.89px;top:588.00px;font-size:11.8px;color:#1d1d1b;transform:scaleX(0.9101)">Unire il PN di A con il PN di B (le Rotte Vere si ottengono automaticamente).</p>
<span class="t bu" id="t27" style="left:52.05px;top:608.00px;font-size:7px;color:#1d1d1b;transform:scaleX(1.0191)">•</span>
<p class="t" id="t28" style="left:65.84px;top:606.00px;font-size:11.8px;color:#1d1d1b;transform:scaleX(0.9058)">Dalla posizione di A tracciare una semiretta ortogonale alla RV sulla quale si riporta la VP di A.</p>
<span class="t bu" id="t29" style="left:52.05px;top:626.00px;font-size:7px;color:#1d1d1b;transform:scaleX(1.0191)">•</span>
<p class="t" id="t30" style="left:65.82px;top:624.00px;font-size:11.8px;color:#1d1d1b;word-spacing:0.495px;transform:scaleX(0.9300)">Dalla posizione di B tracciare una semiretta ortogonale alla RV, in direzione opposta alla semiretta</p>
<p class="t" id="t31" style="left:66.54px;top:641.00px;font-size:11.8px;color:#1d1d1b;transform:scaleX(0.8961)">tracciata dalla posizione di A, sulla quale si riporta la VP di B.</p>
<span class="t bu" id="t32" style="left:52.05px;top:661.00px;font-size:7px;color:#1d1d1b;transform:scaleX(1.0191)">•</span>
<p class="t" id="t33" style="left:65.88px;top:659.00px;font-size:11.8px;color:#1d1d1b;transform:scaleX(0.9222)">Unire gli estremi dei 2 vettori con una linea di costruzione.</p>
<span class="t bu" id="t34" style="left:52.05px;top:679.00px;font-size:7px;color:#1d1d1b;transform:scaleX(1.0191)">•</span>
<p class="t" id="t35" style="left:65.72px;top:676.00px;font-size:11.8px;color:#1d1d1b;transform:scaleX(0.9225)">Il punto d’intercettazione si trova all’incrocio della linea di costruzione con le Rotte.</p>
<span class="t bu" id="t36" style="left:52.05px;top:696.00px;font-size:7px;color:#1d1d1b;transform:scaleX(1.0191)">•</span>
<p class="t" id="t37" style="left:65.83px;top:694.00px;font-size:11.8px;color:#1d1d1b;transform:scaleX(0.9215)">Per determinare l’ora di intercettazione applicare la formula:</p>
<span class="t bu" id="t38" style="left:52.05px;top:766.00px;font-size:7px;color:#1d1d1b;transform:scaleX(1.0191)">•</span>
<p class="t" id="t39" style="left:66.70px;top:764.00px;font-size:11.8px;color:#1d1d1b;transform:scaleX(0.9219)">Aggiungere il tempo di navigazione all’orario di partenza</p>
<p class="t" id="t40" style="left:195.30px;top:729.00px;font-size:10.8px;color:#1d1d1b;transform:scaleX(0.9409)">T<span style="position:relative;top:-3px">m</span> = M<span style="position:relative;top:-3px">B</span> : V<span style="position:relative;top:-3px">B</span> X 60 &nbsp;oppure T<span style="position:relative;top:-3px">m</span> = M<span style="position:relative;top:-3px">A</span> : V<span style="position:relative;top:-3px">A</span> X 60</p>
<span class="t ns" id="t41" style="left:14.59px;top:420.00px;font-size:11.6px;color:#fff;transform:scaleX(1.0521)">240</span>
<span class="t ns" id="t42" style="left:1165.82px;top:420.00px;font-size:11.6px;color:#fff;transform:scaleX(0.9984)">241</span>
<span class="t" id="t43" style="left:485.00px;top:23.00px;font-size:10.2px;color:#333;transform:scaleX(0.8814)">AVANZATO</span>
<span class="t" id="t44" style="left:465.21px;top:40.00px;font-size:10.3px;color:#1469b8;font-weight:700;transform:scaleX(0.8844)">INTERCETTAZIONE</span>
<span class="t" id="t45" style="left:485.08px;top:54.00px;font-size:10.3px;color:#1469b8;font-weight:700;transform:scaleX(0.8595)">SU ROTTE</span>
<span class="t" id="t46" style="left:485.64px;top:68.00px;font-size:10.3px;color:#1469b8;font-weight:700;transform:scaleX(0.8737)">OPPOSTE</span>
<div class="t" id="t47" style="left:915.10px;top:34.00px;font-size:11.3px;color:#bf0a7e;transform:scaleX(0.8849)">INTERCETTAZIONE CON ROTTE OPPOSTE</div>
<h3 class="t" id="t48" style="left:650.62px;top:104.00px;font-size:14.7px;color:#bf0a7e;font-weight:700;transform:scaleX(1.0433)">Soluzione</h3>
<span class="t" id="t49" style="left:650.58px;top:126.00px;font-size:11.8px;color:#1d1d1b;transform:scaleX(0.8980)"><span style="font-size:1.1em">φ</span> 42°33’·8N</span>
<span class="t" id="t50" style="left:715.65px;top:126.00px;font-size:11.8px;color:#1d1d1b;transform:scaleX(0.8566)"><span style="font-size:1.1em">λ</span> 010°24’·8E</span>
<span class="t" id="t51" style="left:787.02px;top:128.00px;font-size:11.8px;color:#1d1d1b;transform:scaleX(0.8971)">Ora = 11:28</span>
<span class="t ar" id="t52" style="left:260.41px;top:146.00px;font-size:10.2px;color:#1f2370;font-weight:700;transform:scaleX(0.9640)">Unità</span>
<span class="t ar" id="t53" style="left:289.81px;top:146.00px;font-size:10.2px;color:#2a3f9d;font-weight:700;transform:scaleX(0.9525)">A</span>
<span class="t ar" id="t54" style="left:299.11px;top:146.00px;font-size:10.2px;color:#1f2370;font-weight:700;transform:scaleX(1.2045)">=</span>
<span class="t ar" id="t55" style="left:314.95px;top:146.00px;font-size:10.2px;color:#1f2370;font-weight:700;transform:scaleX(1.0037)">VP 4 nd</span>
<span class="t ar" id="t56" style="left:360.63px;top:146.00px;font-size:10.2px;color:#1f2370;font-weight:700;transform:scaleX(1.0162)">RV</span>
<span class="t ar" id="t57" style="left:383.69px;top:146.00px;font-size:10.2px;color:#1f2370;font-weight:700;transform:scaleX(1.0209)">90°</span>
<span class="t ar" id="t58" style="left:260.41px;top:159.00px;font-size:10.2px;color:#1f2370;font-weight:700;transform:scaleX(0.9640)">Unità</span>
<span class="t ar" id="t59" style="left:289.30px;top:159.00px;font-size:10.2px;color:#e5261f;font-weight:700;transform:scaleX(1.0533)">B</span>
<span class="t ar" id="t60" style="left:299.11px;top:159.00px;font-size:10.2px;color:#1f2370;font-weight:700;transform:scaleX(1.2045)">=</span>
<span class="t ar" id="t61" style="left:314.95px;top:159.00px;font-size:10.2px;color:#1f2370;font-weight:700;transform:scaleX(1.0037)">VP 2 nd</span>
<span class="t ar" id="t62" style="left:360.63px;top:159.00px;font-size:10.2px;color:#1f2370;font-weight:700;transform:scaleX(1.0162)">RV</span>
<span class="t ar" id="t63" style="left:381.19px;top:159.00px;font-size:10.2px;color:#1f2370;font-weight:700;transform:scaleX(1.0066)">270°</span>
<span class="t ar" id="t64" style="left:122.24px;top:186.00px;font-size:14.4px;color:#1f2370;font-weight:700;transform:scaleX(0.8945)">VP</span>
<span class="t ar" id="t65" style="left:141.22px;top:185.00px;font-size:8.2px;color:#1f2370;font-weight:700;transform:scaleX(1.1119)">A</span>
<span class="t ar" id="t66" style="left:143.73px;top:229.00px;font-size:13.2px;color:#fff;font-weight:700;transform:scaleX(1.0251)">A</span>
<span class="t ar" id="t67" style="left:427.61px;top:230.00px;font-size:14px;color:#fff;font-weight:700;transform:scaleX(1.0899)">B</span>
<span class="t ar" id="t68" style="left:435.63px;top:257.00px;font-size:14.2px;color:#e5261f;font-weight:700;transform:scaleX(0.9233)">VP</span>
<span class="t ar" id="t69" style="left:454.37px;top:255.00px;font-size:8.8px;color:#e5261f;font-weight:700;transform:scaleX(1.1078)">B</span>
<span class="t ar" id="t70" style="left:312.44px;top:260.00px;font-size:8.7px;color:#1f2370;font-weight:700;transform:scaleX(0.9814)">PUNTO DI</span>
<span class="t ar" id="t71" style="left:300.45px;top:270.00px;font-size:8.7px;color:#1f2370;font-weight:700;transform:scaleX(0.9808)">INTERCETTAZIONE</span>
<span class="r" id="r0" style="left:952.40px;top:250.27px;font-size:11.4px;font-weight:400;color:#161616;-webkit-text-stroke:0.55px #161616;transform:rotate(-90deg) scaleX(0.9486) translateY(-9.00px)">PN B</span>
<span class="r" id="r1" style="left:967.00px;top:250.80px;font-size:11.4px;font-weight:400;color:#161616;-webkit-text-stroke:0.55px #161616;transform:rotate(-90deg) scaleX(1.0775) translateY(-9.00px)">h10:10</span>
<span class="r" id="r2" style="left:1045.00px;top:265.70px;font-size:11.4px;font-weight:400;color:#161616;-webkit-text-stroke:0.55px #161616;transform:rotate(-90deg) scaleX(0.9018) translateY(-9.00px)">VP B</span>
<span class="r" id="r3" style="left:1061.80px;top:266.17px;font-size:11.4px;font-weight:400;color:#161616;-webkit-text-stroke:0.55px #161616;transform:rotate(-90deg) scaleX(1.0387) translateY(-9.00px)">5,5 nd</span>
<span class="r" id="r4" style="left:839.00px;top:594.95px;font-size:11.3px;font-weight:400;color:#161616;-webkit-text-stroke:0.25px #161616;transform:rotate(-90deg) scaleX(1.0484) translateY(-9.00px)">PN Intercettazione</span>
<span class="r" id="r5" style="left:854.00px;top:594.80px;font-size:11.3px;font-weight:400;color:#161616;-webkit-text-stroke:0.25px #161616;transform:rotate(-90deg) scaleX(1.0937) translateY(-9.00px)">h 11:28</span>
<span class="r" id="r6" style="left:732.80px;top:715.80px;font-size:11.4px;font-weight:400;color:#161616;-webkit-text-stroke:0.55px #161616;transform:rotate(-90deg) scaleX(0.9460) translateY(-9.00px)">VP A</span>
<span class="r" id="r7" style="left:747.30px;top:716.39px;font-size:11.4px;font-weight:400;color:#161616;-webkit-text-stroke:0.55px #161616;transform:rotate(-90deg) scaleX(1.0327) translateY(-9.00px)">2,3 nd</span>
<span class="r" id="r8" style="left:831.80px;top:766.58px;font-size:11.4px;font-weight:400;color:#161616;-webkit-text-stroke:0.55px #161616;transform:rotate(-90deg) scaleX(0.9685) translateY(-9.00px)">PN A</span>
<span class="r" id="r9" style="left:848.70px;top:766.51px;font-size:11.4px;font-weight:400;color:#161616;-webkit-text-stroke:0.55px #161616;transform:rotate(-90deg) scaleX(1.0953) translateY(-9.00px)">h10:10</span>
</div></body></html>
